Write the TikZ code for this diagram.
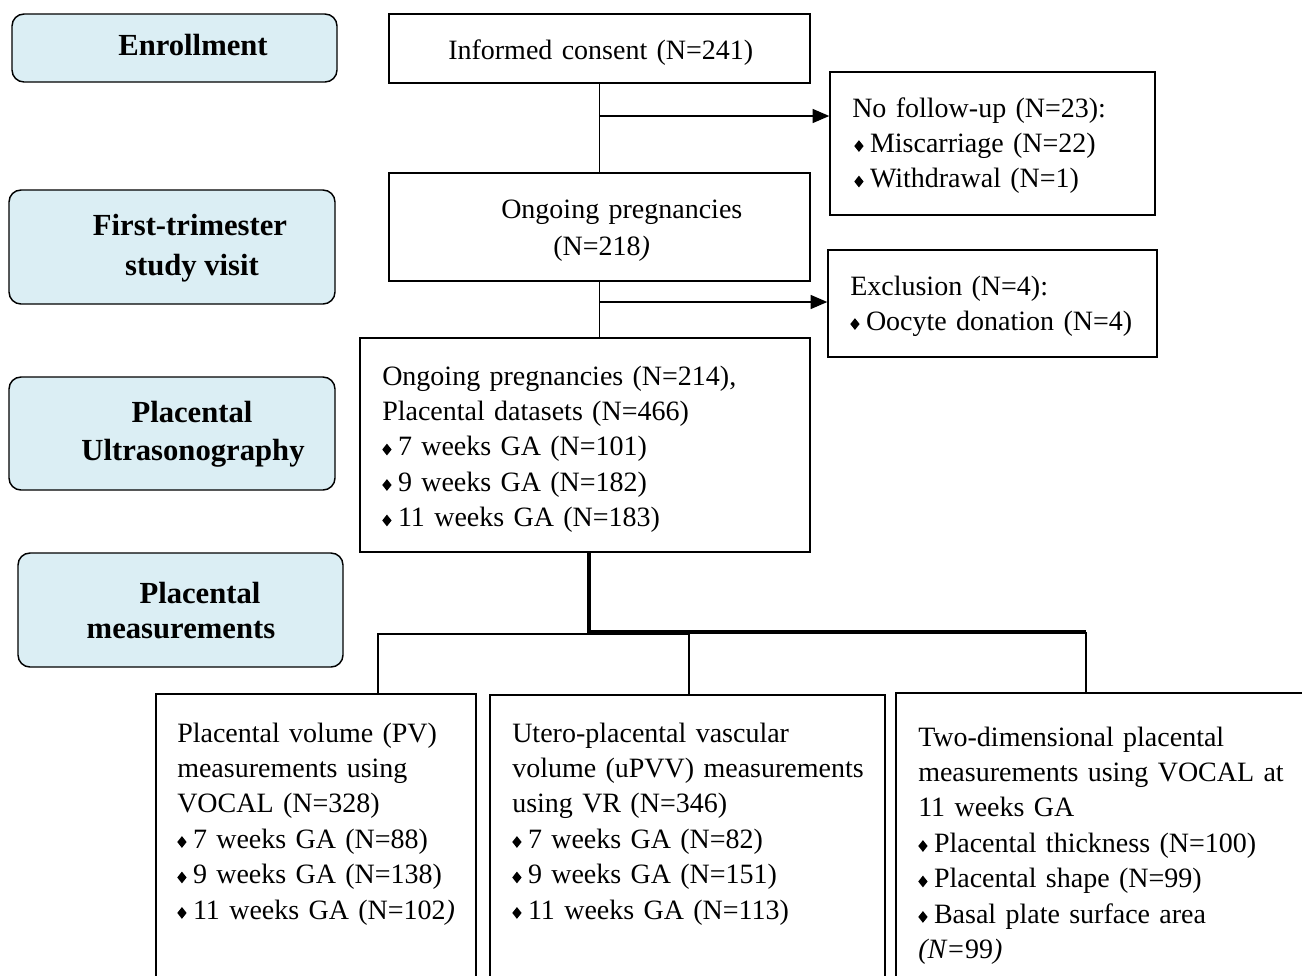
\documentclass[tikz,border=0pt]{standalone}
\usepackage{fontspec}
\setmainfont{Liberation Serif}
\usetikzlibrary{arrows.meta,fit}
\definecolor{labfill}{HTML}{DBEEF4}
\newcommand\bul{\tikz[baseline=0pt]\fill (0pt,4.8pt)--(3.5pt,9.2pt)--(7pt,4.8pt)--(3.5pt,0.4pt)--cycle;\hspace{4.8pt}}
\begin{document}
\begin{tikzpicture}[x=0.75pt,y=-0.75pt,
  box/.style={draw,line width=1.1pt,inner sep=0pt},
  lab/.style={draw,line width=1.1pt,fill=labfill,rounded corners=9pt,inner sep=0pt},
  txt/.style={inner sep=0pt,anchor=base west,align=left,text width=420pt,font=\fontsize{21}{26.6}\selectfont},
  ltxt/.style={inner sep=0pt,anchor=base,font=\fontsize{23}{29}\selectfont\bfseries},
  conn/.style={line width=1.1pt},
  thickconn/.style={line width=2.3pt},
  arr/.style={line width=1.1pt,-{Triangle[length=12.5pt,width=10.5pt]}}]
\useasboundingbox (0,0) rectangle (1302,975);
\clip (0,0) rectangle (1302,975);

% stage labels
\node[lab,fit={(12,14)(337,82)}] (enr) {};
\node[lab,fit={(9,190)(335,304)}] (ftv) {};
\node[lab,fit={(9,377)(335,490)}] (pus) {};
\node[lab,fit={(18,553)(343,667)}] (pme) {};
\node[ltxt] (enrT) at (193,55) {Enrollment};
\node[ltxt] (ftvA) at (190,235) {First-trimester};
\node[ltxt] (ftvB) at (192,275) {study visit};
\node[ltxt] (pusA) at (192,422) {Placental};
\node[ltxt] (pusB) at (193,460) {Ultrasonography};
\node[ltxt] (pmeA) at (200,603) {Placental};
\node[ltxt] (pmeB) at (181,638) {measurements};

% flow boxes
\node[box,fit={(389,14)(810,83)}] (ic) {};
\node[box,fit={(389,173)(810,281)}] (og1) {};
\node[box,fit={(830,72)(1155,215)}] (nf) {};
\node[box,fit={(828,250)(1157,357)}] (ex) {};
\node[box,fit={(360,338)(810,552)}] (og2) {};
\node[box,fit={(156,694)(476,1000)}] (b1) {};
\node[box,fit={(490,695)(885,1000)}] (b2) {};
\node[box,fit={(896,693)(1320,1000)}] (b3) {};

% texts
\node[txt] (icT) at (448,59) {Informed consent (N=241)};
\node[txt] (og1A) at (501,218) {Ongoing pregnancies};
\node[txt] (og1B) at (553,255) {(N=218\textit{)}};
\node[txt] (nfT) at (852,117) {No follow-up (N=23):\\
\hspace{1.5pt}\bul Miscarriage (N=22)\\
\hspace{1.5pt}\bul Withdrawal (N=1)};
\node[txt] (exT) at (850,295) {Exclusion (N=4):\\
\bul Oocyte donation (N=4)};
\node[txt] (og2T) at (382,385) {Ongoing pregnancies (N=214),\\
Placental datasets (N=466)\\
\bul 7 weeks GA (N=101)\\
\bul 9 weeks GA (N=182)\\
\bul 11 weeks GA (N=183)};
\node[txt] (b1T) at (177,742) {Placental volume (PV)\\
measurements using\\
VOCAL (N=328)\\
\bul 7 weeks GA (N=88)\\
\bul 9 weeks GA (N=138)\\
\bul 11 weeks GA (N=102\textit{)}};
\node[txt] (b2T) at (512,742) {Utero-placental vascular\\
volume (uPVV) measurements\\
using VR (N=346)\\
\bul 7 weeks GA (N=82)\\
\bul 9 weeks GA (N=151)\\
\bul 11 weeks GA (N=113)};
\node[txt] (b3T) at (918,746) {Two-dimensional placental\\
measurements using VOCAL at\\
11 weeks GA\\
\bul Placental thickness (N=100)\\
\bul Placental shape (N=99)\\
\bul Basal plate surface area\\
\textit{(N=}99\textit{)}};

% connectors
\draw[conn] (ic.south) -- (og1.north);
\coordinate (j1) at (599.5,116);
\draw[arr] (j1) -- (j1 -| nf.west);
\draw[conn] (og1.south) -- (og1.south |- og2.north);
\coordinate (j2) at (599.5,302);
\draw[arr] (j2) -- (j2 -| ex.west);
\coordinate (k) at (589,632);
\coordinate (r) at (1086,632);
\draw[thickconn] (og2.south -| k) -- (k) -- (r);
\draw[conn] (r) -- (r |- b3.north);
\coordinate (l) at (378,634);
\coordinate (m) at (689,634);
\draw[conn] (l |- b1.north) -- (l) -- (m) -- (m |- b2.north);
\end{tikzpicture}
\end{document}
